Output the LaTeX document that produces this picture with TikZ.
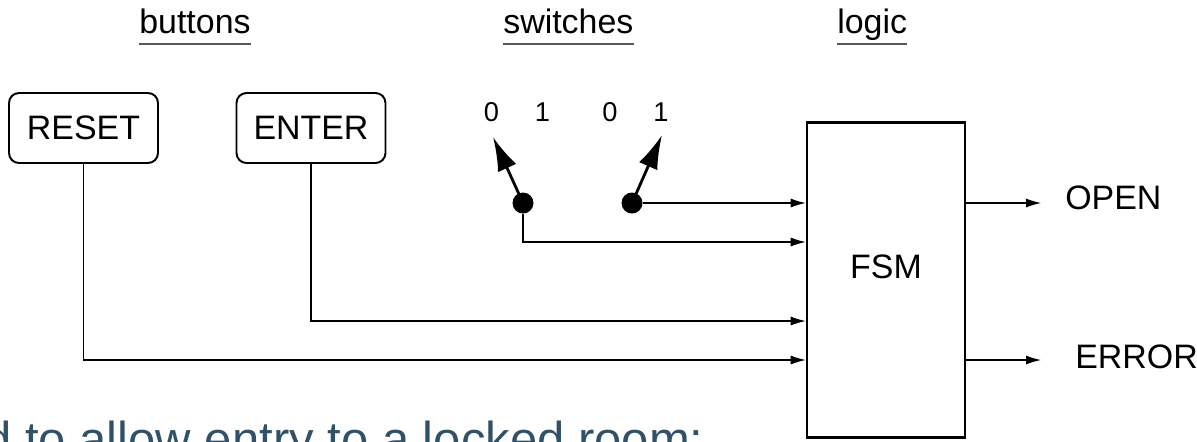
\documentclass[tikz,border=0pt]{standalone}
\usepackage{fontspec}
\setmainfont{Liberation Sans}
\usetikzlibrary{arrows.meta}
\definecolor{slidetext}{RGB}{47,82,104}
\newcommand{\bigtext}{\fontsize{19.3}{23}\selectfont}
\tikzset{
	button/.style={draw, line width=1.1pt, rounded corners=0.2cm, minimum width=2.98cm, minimum height=1.4cm, inner sep=0pt, font=\bigtext},
	fsmbox/.style={draw, line width=1.5pt, minimum width=3.16cm, minimum height=6.3cm, inner sep=0pt},
	heading/.style={inner sep=0pt, anchor=base west, font=\bigtext},
	underline/.style={draw=gray!70!black, line width=0.9pt},
	pin/.style={circle, fill, inner sep=0pt, minimum size=0.42cm},
	digit/.style={inner sep=0pt, font=\fontsize{15.5}{18}\selectfont},
	lever/.style={line width=1.6pt, -{Latex[length=0.68cm,width=0.4cm]}},
	wire/.style={line width=0.6pt, -{Latex[length=0.3cm,width=0.18cm]}},
	outlabel/.style={inner sep=0pt, anchor=west, font=\bigtext},
}

\begin{document}
\begin{tikzpicture}[x=0.02cm, y=-0.02cm]
	\useasboundingbox (0,0) rectangle (1197,441);
	\clip (0,0) rectangle (1197,441);
	% column headings
	\node[heading] (buttons) at (139,33) {buttons};
	\node[heading] (switches) at (503,33) {switches};
	\node[heading] (logic) at (837,33) {logic};
	\foreach \h in {buttons,switches,logic}
		\draw[underline] ([yshift=-0.22cm]\h.base west) -- ([yshift=-0.22cm]\h.base east);
	% push buttons
	\node[button] (reset) at (83.5,128) {RESET};
	\node[button] (enter) at (311,128) {ENTER};
	% the state machine
	\node[fsmbox, label={[font=\bigtext, yshift=0.26cm]center:FSM}] (fsm) at (886,280) {};
	% toggle switches
	\node[pin] (sw1) at (523,203) {};
	\node[pin] (sw2) at (632,203) {};
	\coordinate (tip1) at (493,137);
	\coordinate (tip2) at (662,135);
	\draw[lever] (sw1.center) -- (tip1);
	\draw[lever] (sw2.center) -- (tip2);
	\node[digit] (s1off) at (491.5,112.5) {0};
	\node[digit] (s1on) at (542.5,112.5) {1};
	\node[digit] (s2off) at (610,112.5) {0};
	\node[digit] (s2on) at (661,112.5) {1};
	% inputs
	\coordinate (in1) at (fsm.west |- 0,203);
	\coordinate (in2) at (fsm.west |- 0,242);
	\coordinate (in3) at (fsm.west |- 0,321);
	\coordinate (in4) at (fsm.west |- 0,360);
	\draw[wire] (sw2) -- (in1);
	\draw[wire] (sw1) |- (in2);
	\draw[wire] (enter) |- (in3);
	\draw[wire] (reset) |- (in4);
	% outputs
	\node[outlabel] (open) at (1065,198) {OPEN};
	\node[outlabel] (error) at (1075,357) {ERROR};
	\coordinate (out1) at (1041,203);
	\coordinate (out2) at (1041,360);
	\draw[wire] (fsm.east |- out1) -- (out1);
	\draw[wire] (fsm.east |- out2) -- (out2);
	% slide text below
	\node[anchor=base west, inner sep=0pt, text=slidetext, font=\fontsize{27.9}{33}\selectfont] (caption) at (-16,456) {d to allow entry to a locked room:};
\end{tikzpicture}
\end{document}
